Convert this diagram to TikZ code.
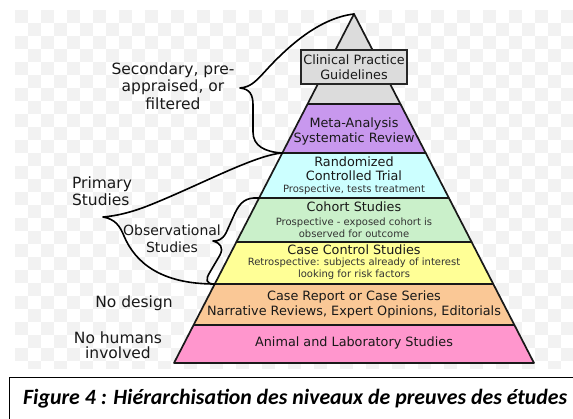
\documentclass[tikz,border=0pt]{standalone}
\usepackage{fontspec}
\setmainfont{DejaVu Sans}
\newfontfamily\captionfont{Carlito}
\usetikzlibrary{positioning, calc}

\definecolor{capgray}{RGB}{220,220,220}
\definecolor{metapurple}{RGB}{200,152,238}
\definecolor{rctcyan}{RGB}{204,255,255}
\definecolor{cohortgreen}{RGB}{202,240,202}
\definecolor{casectlyellow}{RGB}{255,255,150}
\definecolor{reportorange}{RGB}{250,200,150}
\definecolor{animalpink}{RGB}{255,150,205}

\begin{document}
\begin{tikzpicture}[x=1pt, y=-1pt,
	tier/.style={draw=black!90, line width=1.7pt, line join=round},
	tiertitle/.style={font=\fontsize{12.8}{15}\selectfont, text=black!90, align=center, inner sep=0pt},
	tiersub/.style={font=\fontsize{10}{12}\selectfont, text=black!80, align=center, inner sep=0pt},
	sidelabel/.style={font=\fontsize{15.5}{17.5}\selectfont, text=black!90, align=center, inner sep=0pt},
	bracket/.style={draw=black, line width=1.6pt, line cap=round, line join=round}]
\useasboundingbox (0,0) rectangle (573,418);
\fill[white] (0,0) rectangle (573,418);
% faint checkerboard behind the pyramid
\begin{scope}
	\clip (15,10) rectangle (573,368);
	\foreach \j in {0,...,27}
		\foreach \i in {0,...,21} {
			\pgfmathsetmacro\cx{15+26*\i+13*mod(\j,2)}
			\fill[black!5] (\cx,10+13*\j) rectangle +(13,13);
		}
\end{scope}
\coordinate (apex) at (354,14);
\coordinate (bl) at (174,363);
\coordinate (br) at (534,363);
\foreach \ya/\yb/\col [count=\i] in {14/104/capgray, 104/153/metapurple, 153/198/rctcyan, 198/242/cohortgreen, 242/284/casectlyellow, 284/325/reportorange, 325/363/animalpink} {
	\pgfmathsetmacro\ta{(\ya-14)/349}
	\pgfmathsetmacro\tb{(\yb-14)/349}
	\filldraw[tier, fill=\col] ($(apex)!\ta!(bl)$) -- ($(apex)!\tb!(bl)$) coordinate (L\i) -- ($(apex)!\tb!(br)$) -- ($(apex)!\ta!(br)$) -- cycle;
}
\node[tiertitle, draw=black!85, line width=1.6pt, fill=capgray, minimum width=106pt, minimum height=34pt] (clinical) at (354,67) {Clinical Practice\\Guidelines};
\node[tiertitle] (meta) at (354,131) {Meta-Analysis\\Systematic Review};
\node[tiertitle, font=\fontsize{12.8}{14.5}\selectfont] (rct) at (354,168.5) {Randomized\\Controlled Trial};
\node[tiersub] (rctsub) at (354,189.5) {Prospective, tests treatment};
\node[tiertitle] (cohort) at (354,207) {Cohort Studies};
\node[tiersub] (cohortsub) at (354,227.5) {Prospective - exposed cohort is\\observed for outcome};
\node[tiertitle] (casectl) at (354,250) {Case Control Studies};
\node[tiersub] (casectlsub) at (354,268.5) {Retrospective: subjects already of interest\\looking for risk factors};
\node[tiertitle] (casereport) at (354,304.5) {Case Report or Case Series\\Narrative Reviews, Expert Opinions, Editorials};
\node[tiertitle] (animal) at (354,343) {Animal and Laboratory Studies};
% labels on the left
\node[sidelabel] (secondary) at (173,86) {Secondary, pre-\\appraised, or\\filtered};
\node[sidelabel, align=left] (primary) at (102,191) {Primary\\Studies};
\node[sidelabel, font=\fontsize{14}{17}\selectfont] (observational) at (172,238.5) {Observational\\Studies};
\node[sidelabel] (nodesign) at (134,303) {No design};
\node[sidelabel, font=\fontsize{15.5}{15.5}\selectfont] (nohumans) at (118,345) {No humans\\involved};
% braces
\coordinate (sectip) at (240,88);
\coordinate (primtip) at (103,217);
\coordinate (obstip) at (213,241);
\draw[bracket] (apex) .. controls (320,18) and (290,45) .. (270,66) .. controls (257,80) and (252,87) .. (sectip)
	.. controls (250,89) and (253,95) .. (253,105) -- (253,132) .. controls (253,146) and (265,152) .. (L2);
\draw[bracket] (L2) .. controls (255,155) and (200,185) .. (150,205) .. controls (130,213) and (115,216) .. (primtip)
	.. controls (115,219) and (120,226) .. (124,236) .. controls (135,262) and (160,284) .. (L5);
\draw[bracket] (L3) .. controls (245,197) and (240,203) .. (235,213) -- (226,233) .. controls (222,240) and (218,241) .. (obstip)
	.. controls (220,243) and (224,247) .. (220,255) -- (210,272) .. controls (205,280) and (206,284) .. (L5);
% caption
\draw[line width=1pt] (9,377) rectangle (600,440);
\node[anchor=west, inner sep=0pt, font=\captionfont\bfseries\itshape\fontsize{21.8}{26}\selectfont] (caption) at (23,399) {Figure 4 : Hiérarchisation des niveaux de preuves des études};
\end{tikzpicture}
\end{document}
